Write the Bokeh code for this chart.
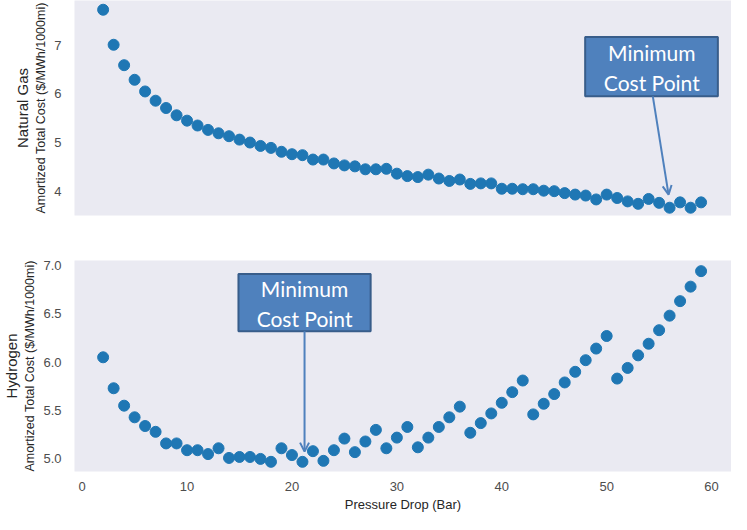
from bokeh.plotting import figure
from bokeh.layouts import column
from bokeh.models import (Range1d, FixedTicker, BoxAnnotation, Label, Arrow, OpenHead,
                          NumeralTickFormatter, Title)
from bokeh.embed import file_html
from bokeh.resources import INLINE

pressure = list(range(2, 60))

ng_cost = [7.73, 7.01, 6.59, 6.29, 6.05, 5.86, 5.71, 5.56, 5.45, 5.35,
           5.26, 5.19, 5.13, 5.06, 5.00, 4.93, 4.89, 4.81, 4.76, 4.74,
           4.65, 4.65, 4.57, 4.53, 4.51, 4.45, 4.45, 4.46, 4.36, 4.31,
           4.29, 4.34, 4.26, 4.21, 4.24, 4.15, 4.16, 4.16, 4.05, 4.05,
           4.04, 4.04, 4.01, 4.00, 3.96, 3.93, 3.91, 3.83, 3.93, 3.86,
           3.79, 3.74, 3.84, 3.76, 3.66, 3.77, 3.66, 3.77]

h2_cost = [6.05, 5.73, 5.55, 5.43, 5.34, 5.28, 5.16, 5.16, 5.09, 5.09,
           5.05, 5.11, 5.01, 5.02, 5.02, 5.00, 4.97, 5.11, 5.04, 4.97,
           5.08, 4.98, 5.09, 5.21, 5.07, 5.18, 5.30, 5.11, 5.22, 5.33,
           5.12, 5.22, 5.33, 5.43, 5.54, 5.27, 5.37, 5.47, 5.58, 5.69,
           5.81, 5.46, 5.57, 5.67, 5.79, 5.90, 6.02, 6.14, 6.27, 5.83,
           5.94, 6.07, 6.19, 6.33, 6.48, 6.63, 6.78, 6.94]

x_ticks = [0, 10, 20, 30, 40, 50, 60]
ng_ticks = [4, 5, 6, 7]
h2_ticks = [5.0, 5.5, 6.0, 6.5, 7.0]

ng_name = "Natural Gas"
h2_name = "Hydrogen"
cost_label = "Amortized Total Cost ($/MWh/1000mi)"
x_label = "Pressure Drop (Bar)"
note = ["Minimum", "Cost Point"]

BG = "#EAEAF2"
DOT = "#1F77B4"
BOX = "#4F81BD"
BOX_EDGE = "#385D8A"
TICK_FONT = "Liberation Sans"


def style(p, yticks, name):
    p.background_fill_color = BG
    p.border_fill_color = "white"
    p.outline_line_color = None
    p.grid.grid_line_color = None
    for ax in p.axis:
        ax.axis_line_color = None
        ax.major_tick_line_color = None
        ax.minor_tick_line_color = None
        ax.major_label_text_font = TICK_FONT
        ax.major_label_text_font_size = "13px"
        ax.major_label_text_color = "#4d4d4d"
        ax.axis_label_text_font = TICK_FONT
        ax.axis_label_text_font_size = "12.5px"
        ax.axis_label_text_font_style = "normal"
        ax.axis_label_text_color = "#262626"
    p.yaxis.ticker = FixedTicker(ticks=yticks)
    p.yaxis.major_label_standoff = 7
    p.yaxis.axis_label_standoff = 3
    p.yaxis.axis_label = cost_label
    p.xaxis.ticker = FixedTicker(ticks=x_ticks)
    p.add_layout(Title(text=name, align="center", text_font=TICK_FONT,
                       text_font_size="15px", text_font_style="normal",
                       text_color="#262626", standoff=1), "left")


def annotate(p, left, right, top, bottom, cx, y1, y2, ax0, ay0, ax1, ay1):
    p.add_layout(BoxAnnotation(left=left, right=right, top=top, bottom=bottom,
                               fill_color=BOX, fill_alpha=1.0,
                               line_color=BOX_EDGE, line_width=2, line_alpha=1.0))
    for yy, t in zip([y1, y2], note):
        p.add_layout(Label(x=cx, y=yy, text=t, text_align="center",
                           text_baseline="middle", text_color="white",
                           text_font="Lato", text_font_size="21px"))
    p.add_layout(Arrow(x_start=ax0, y_start=ay0, x_end=ax1, y_end=ay1,
                       line_color=BOX, line_width=2,
                       end=OpenHead(size=9, line_color=BOX, line_width=2)))


xr = Range1d(-0.73, 61.9)

p1 = figure(width=731, height=252, output_backend="svg", toolbar_location=None,
            x_range=xr, y_range=Range1d(3.5, 7.92),
            min_border_left=54, min_border_right=0, min_border_top=0,
            min_border_bottom=37)
p1.scatter(pressure, ng_cost, size=11, color=DOT)
style(p1, ng_ticks, ng_name)
p1.xaxis.visible = False
annotate(p1, 47.95, 60.6, 7.17, 5.95, 54.3, 6.85, 6.24, 54.4, 5.95, 55.9, 3.93)

p2 = figure(width=731, height=262, output_backend="svg", toolbar_location=None,
            x_range=xr, y_range=Range1d(4.87, 7.05),
            min_border_left=54, min_border_right=0, min_border_top=8,
            min_border_bottom=30)
p2.scatter(pressure, h2_cost, size=11, color=DOT)
style(p2, h2_ticks, h2_name)
p2.yaxis.formatter = NumeralTickFormatter(format="0.0")
p2.xaxis.axis_label = x_label
p2.xaxis.major_label_standoff = 4
p2.xaxis.axis_label_standoff = 3
p2.xaxis.axis_label_text_font_size = "13px"
annotate(p2, 14.9, 27.5, 6.91, 6.32, 21.2, 6.756, 6.45, 21.2, 6.32, 21.2, 5.075)

layout = column(p1, p2, spacing=0)
open("out.html", "w").write(file_html(layout, INLINE))
